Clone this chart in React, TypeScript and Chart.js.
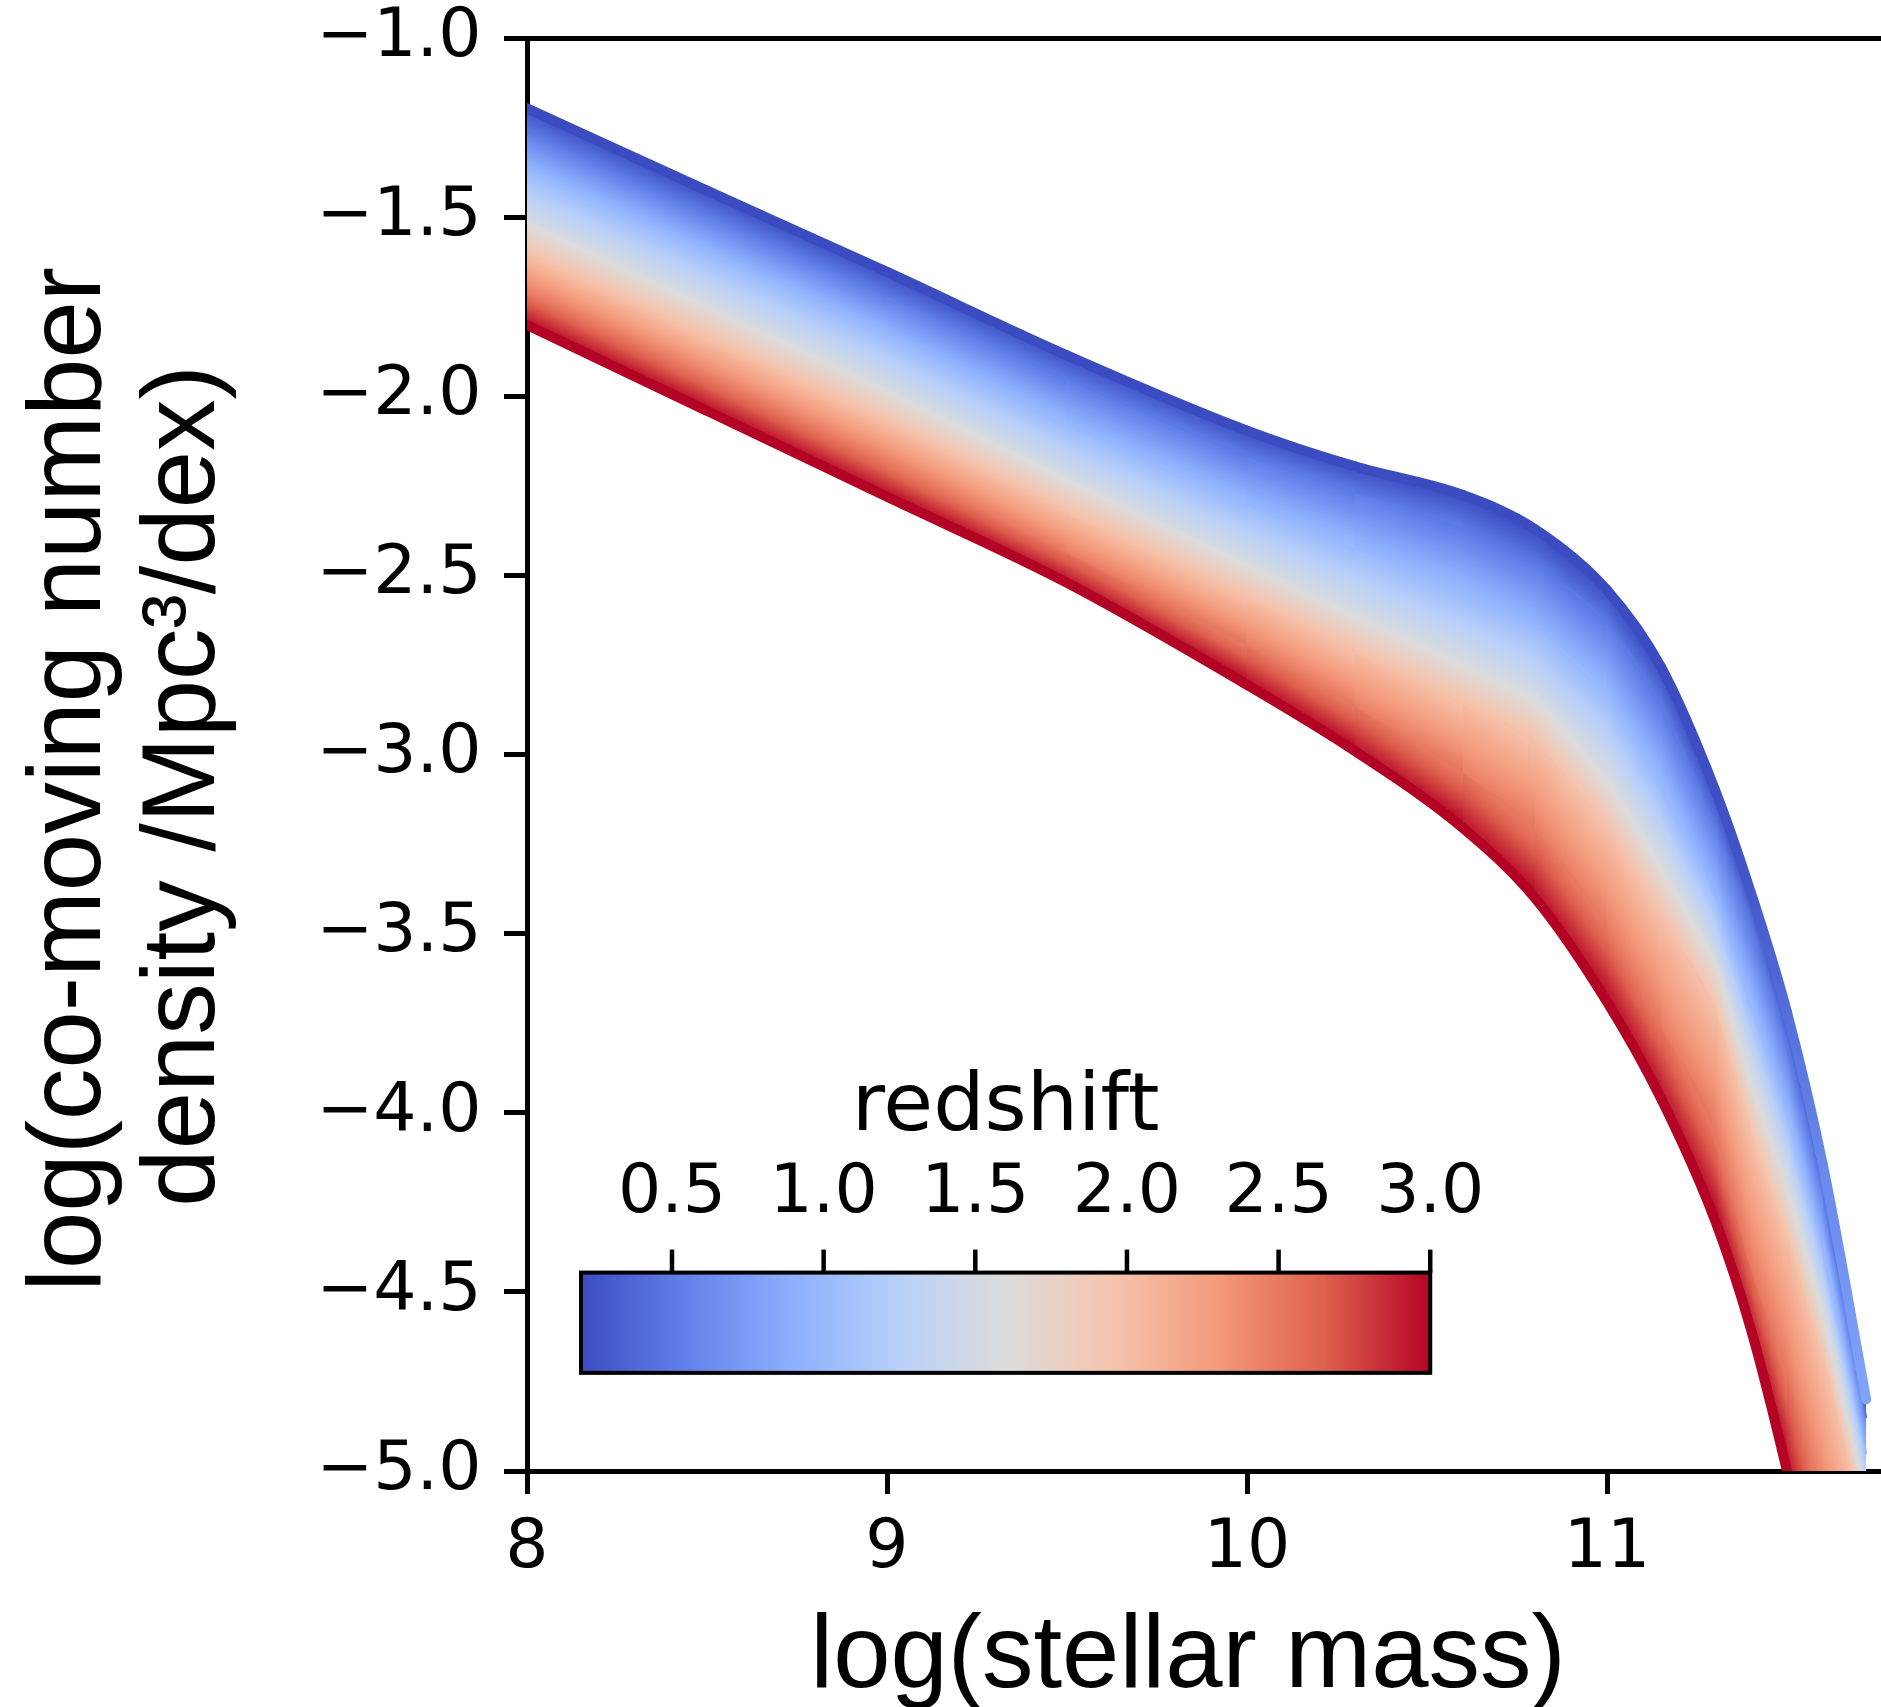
import React, { useEffect, useRef } from 'react';
import { Chart, registerables } from 'chart.js';

Chart.register(...registerables);

// ---------------- data ----------------
const logStellarMass = [8.0, 8.5, 9.0, 9.5, 10.0, 10.3, 10.6, 10.8, 11.0, 11.15, 11.3, 11.4, 11.5, 11.6, 11.72];
const redshifts = [0.2, 0.5, 1.0, 1.5, 2.0, 2.5, 3.0];
const logPhiZ02 = [-1.195, -1.425, -1.652, -1.885, -2.095, -2.195, -2.275, -2.37, -2.54, -2.755, -3.098, -3.386, -3.719, -4.147, -4.8];
const logPhiZ05 = [-1.258, -1.49, -1.716, -1.95, -2.164, -2.266, -2.364, -2.47, -2.63, -2.86, -3.197, -3.48, -3.81, -4.22, -4.85];
const logPhiZ10 = [-1.37, -1.6, -1.83, -2.08, -2.304, -2.424, -2.55, -2.65, -2.832, -3.086, -3.395, -3.697, -4.0, -4.38, -4.95];
const logPhiZ15 = [-1.5, -1.73, -1.965, -2.215, -2.452, -2.59, -2.725, -2.82, -3.036, -3.283, -3.553, -3.874, -4.17, -4.53, -5.05];
const logPhiZ20 = [-1.605, -1.84, -2.075, -2.325, -2.563, -2.716, -2.86, -2.965, -3.215, -3.462, -3.711, -4.072, -4.36, -4.7, -5.17];
const logPhiZ25 = [-1.71, -1.945, -2.185, -2.435, -2.694, -2.865, -3.05, -3.21, -3.481, -3.758, -4.046, -4.428, -4.72, -5.1, -5.6];
const logPhiZ30 = [-1.8, -2.04, -2.28, -2.52, -2.805, -2.99, -3.205, -3.4, -3.69, -3.96, -4.3, -4.605, -5.0, -5.45, -6.05];
const seriesByRedshift = [logPhiZ02, logPhiZ05, logPhiZ10, logPhiZ15, logPhiZ20, logPhiZ25, logPhiZ30];
// redshift whose colour is seen along the upper edge of the band (lines overlap near the end)
const upperEdgeRedshift = [0.2, 0.2, 0.2, 0.2, 0.2, 0.2, 0.2, 0.2, 0.2, 0.2, 0.22, 0.28, 0.42, 0.6, 0.8];

const xTickValues = [8, 9, 10, 11];
const yTickValues = [-5, -4.5, -4, -3.5, -3, -2.5, -2, -1.5, -1];
const cbarTickValues = [0.5, 1.0, 1.5, 2.0, 2.5, 3.0];
const zRange = [0.2, 3.0];

const xTitle = 'log(stellar mass)';
const yTitleLines = ['log(co-moving number', 'density /Mpc\u00B3/dex)'];
const cbarTitle = 'redshift';

// ---------------- styling ----------------
const TICK_FONT = '"DejaVu Sans", sans-serif';
const TITLE_FONT = '"Liberation Sans", Arial, Helvetica, sans-serif';
const COOLWARM: number[][] = [
  [0, 59, 76, 192],
  [0.125, 98, 130, 234],
  [0.25, 141, 176, 254],
  [0.375, 184, 208, 249],
  [0.5, 221, 220, 220],
  [0.625, 245, 196, 173],
  [0.75, 244, 154, 123],
  [0.875, 222, 96, 77],
  [1, 180, 4, 38],
];

function coolwarm(t: number): string {
  const tt = Math.max(0, Math.min(1, t));
  for (let i = 1; i < COOLWARM.length; i++) {
    const a = COOLWARM[i - 1];
    const b = COOLWARM[i];
    if (tt <= b[0]) {
      const f = (tt - a[0]) / (b[0] - a[0]);
      const r = Math.round(a[1] + (b[1] - a[1]) * f);
      const g = Math.round(a[2] + (b[2] - a[2]) * f);
      const bl = Math.round(a[3] + (b[3] - a[3]) * f);
      return `rgb(${r},${g},${bl})`;
    }
  }
  return 'rgb(180,4,38)';
}
const zColor = (z: number) => coolwarm((z - zRange[0]) / (zRange[1] - zRange[0]));

// colour of the band between curve i and curve i+1, oriented across the band
function bandGradient(ctx: any, i: number) {
  const chart = ctx.chart;
  const p0 = ctx.p0;
  const p1 = ctx.p1;
  const tMeta = chart.getDatasetMeta(i + 1);
  const q0 = tMeta && tMeta.data[ctx.p0DataIndex];
  const q1 = tMeta && tMeta.data[ctx.p1DataIndex];
  const zA = redshifts[i];
  const zB = redshifts[i + 1];
  if (!p0 || !p1 || !q0 || !q1) return zColor((zA + zB) / 2);
  let dx = p1.x - p0.x + (q1.x - q0.x);
  let dy = p1.y - p0.y + (q1.y - q0.y);
  const len = Math.hypot(dx, dy) || 1;
  dx /= len;
  dy /= len;
  const nx = -dy;
  const ny = dx;
  const mx = (p0.x + p1.x) / 2;
  const my = (p0.y + p1.y) / 2;
  const tx = (q0.x + q1.x) / 2;
  const ty = (q0.y + q1.y) / 2;
  const proj = (tx - mx) * nx + (ty - my) * ny;
  if (Math.abs(proj) < 1) return zColor((zA + zB) / 2);
  const g = chart.ctx.createLinearGradient(mx, my, mx + nx * proj, my + ny * proj);
  const steps = 6;
  for (let k = 0; k <= steps; k++) {
    const f = k / steps;
    g.addColorStop(f, zColor(zA + (zB - zA) * f));
  }
  return g;
}

// colour of the upper edge line along each segment
function upperEdgeColor(ctx: any) {
  const zA = upperEdgeRedshift[ctx.p0DataIndex];
  const zB = upperEdgeRedshift[ctx.p1DataIndex];
  if (zA === zB) return zColor(zA);
  const g = ctx.chart.ctx.createLinearGradient(ctx.p0.x, ctx.p0.y, ctx.p1.x, ctx.p1.y);
  g.addColorStop(0, zColor(zA));
  g.addColorStop(1, zColor(zB));
  return g;
}

const fmtY = (v: number) => (v < 0 ? '\u2212' : '') + Math.abs(v).toFixed(1);

const decorPlugin = {
  id: 'decor',
  afterDraw(chart: any) {
    const { ctx, chartArea } = chart;
    const xs = chart.scales.x;
    const ys = chart.scales.y;
    ctx.save();
    // top spine
    ctx.strokeStyle = '#000';
    ctx.lineWidth = 5;
    ctx.beginPath();
    ctx.moveTo(chartArea.left - 2.5, chartArea.top);
    ctx.lineTo(chartArea.right, chartArea.top);
    ctx.stroke();

    // axis titles
    ctx.fillStyle = '#000';
    ctx.font = `103px ${TITLE_FONT}`;
    ctx.textAlign = 'center';
    ctx.textBaseline = 'alphabetic';
    ctx.fillText(xTitle, chartArea.left + 661, chartArea.bottom + 216);
    const yLinePos = [
      [chartArea.left - 427, chartArea.top + 741],
      [chartArea.left - 313.5, chartArea.top + 747.5],
    ];
    yTitleLines.forEach((line, k) => {
      ctx.save();
      ctx.translate(yLinePos[k][0], yLinePos[k][1]);
      ctx.rotate(-Math.PI / 2);
      ctx.fillText(line, 0, 0);
      ctx.restore();
    });

    // colour bar (placed in data coordinates of the axes)
    const L = xs.getPixelForValue(8.15);
    const R = xs.getPixelForValue(10.509);
    const T = ys.getPixelForValue(-4.446);
    const B = ys.getPixelForValue(-4.726);
    const grad = ctx.createLinearGradient(L, 0, R, 0);
    COOLWARM.forEach((s) => grad.addColorStop(s[0], `rgb(${s[1]},${s[2]},${s[3]})`));
    ctx.fillStyle = grad;
    ctx.fillRect(L, T, R - L, B - T);
    ctx.lineWidth = 4;
    ctx.strokeStyle = '#000';
    ctx.strokeRect(L, T, R - L, B - T);
    ctx.lineWidth = 4.5;
    ctx.fillStyle = '#000';
    ctx.font = `68px ${TICK_FONT}`;
    cbarTickValues.forEach((v) => {
      const px = L + ((v - zRange[0]) / (zRange[1] - zRange[0])) * (R - L);
      ctx.beginPath();
      ctx.moveTo(px, T);
      ctx.lineTo(px, T - 23);
      ctx.stroke();
      ctx.fillText(v.toFixed(1), px, T - 61);
    });
    ctx.font = `81px ${TICK_FONT}`;
    ctx.fillText(cbarTitle, (L + R) / 2, T - 143);
    ctx.restore();
  },
};

export default function App() {
  const canvasRef = useRef<HTMLCanvasElement | null>(null);

  useEffect(() => {
    document.body.style.margin = '0';
    const canvas = canvasRef.current;
    if (!canvas) return;

    const last = seriesByRedshift.length - 1;
    const datasets: any[] = seriesByRedshift.map((arr, i) => {
      const isTop = i === 0;
      const isBottom = i === last;
      const segment: any = isBottom ? undefined : { backgroundColor: (c: any) => bandGradient(c, i) };
      if (isTop) segment.borderColor = upperEdgeColor;
      return {
        label: `z = ${redshifts[i].toFixed(1)}`,
        data: logStellarMass.map((x, k) => ({ x, y: arr[k] })),
        borderColor: zColor(redshifts[i]),
        backgroundColor: zColor(redshifts[i]),
        borderWidth: isTop || isBottom ? 10 : 2,
        borderCapStyle: 'round',
        borderJoinStyle: 'round',
        pointRadius: 0,
        pointHoverRadius: 0,
        cubicInterpolationMode: 'monotone',
        fill: isBottom ? false : '+1',
        order: isBottom ? -2 : 0,
        clip: 0,
        segment,
      };
    });

    const chart = new Chart(canvas, {
      type: 'line',
      data: { datasets },
      options: {
        responsive: false,
        animation: false,
        devicePixelRatio: 1,
        layout: { padding: { top: 38.4, left: 0, right: 0, bottom: 0 } },
        plugins: { legend: { display: false }, tooltip: { enabled: false } },
        events: [],
        scales: {
          x: {
            type: 'linear',
            min: 8,
            max: 8 + 1354 / 360,
            afterBuildTicks: (s: any) => {
              s.ticks = xTickValues.map((v) => ({ value: v }));
            },
            afterFit: (s: any) => {
              s.height = 236;
              s.paddingLeft = 0;
              s.paddingRight = 0;
            },
            grid: {
              display: true,
              drawOnChartArea: false,
              drawTicks: true,
              tickLength: 23,
              tickWidth: 5,
              tickColor: '#000',
              lineWidth: 5,
              color: '#000',
            },
            border: { display: true, color: '#000', width: 5 },
            ticks: {
              color: '#000',
              font: { family: TICK_FONT, size: 68, lineHeight: 1 },
              padding: 21,
              maxRotation: 0,
              autoSkip: false,
              callback: (v: any) => String(v),
            },
            title: { display: false },
          },
          y: {
            type: 'linear',
            min: -5,
            max: -1,
            afterBuildTicks: (s: any) => {
              s.ticks = yTickValues.map((v) => ({ value: v }));
            },
            afterFit: (s: any) => {
              s.width = 527;
              s.paddingTop = 0;
              s.paddingBottom = 0;
            },
            grid: {
              display: true,
              drawOnChartArea: false,
              drawTicks: true,
              tickLength: 23,
              tickWidth: 5,
              tickColor: '#000',
              lineWidth: 5,
              color: '#000',
            },
            border: { display: true, color: '#000', width: 5 },
            ticks: {
              color: '#000',
              font: { family: TICK_FONT, size: 68, lineHeight: 1 },
              padding: 22.5,
              autoSkip: false,
              callback: (v: any) => fmtY(Number(v)),
            },
            title: { display: false },
          },
        },
      },
      plugins: [decorPlugin],
    } as any);

    return () => chart.destroy();
  }, []);

  return (
    <div
      style={{
        position: 'fixed',
        left: 0,
        top: 0,
        width: 1881,
        height: 1707,
        overflow: 'hidden',
        background: '#fff',
      }}
    >
      <canvas ref={canvasRef} width={1881} height={1707} style={{ display: 'block' }} />
    </div>
  );
}
